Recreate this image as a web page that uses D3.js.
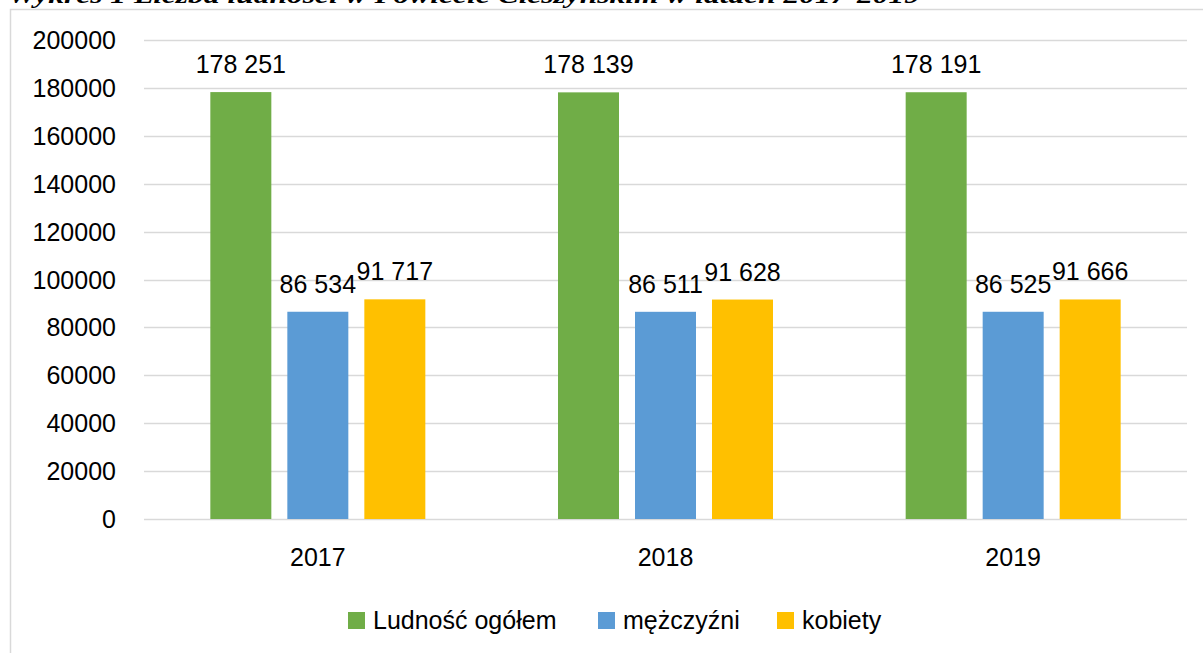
<!DOCTYPE html>
<html><head><meta charset="utf-8">
<script src="https://cdn.jsdelivr.net/npm/d3@7"></script>
<style>
html,body{margin:0;padding:0;background:#fff;overflow:hidden}
text{font-family:"Liberation Sans",Arial,sans-serif;fill:#000}
</style></head>
<body>
<svg id="c" width="1203" height="653"></svg>
<script>
const title = "Wykres 1 Liczba ludności w Powiecie Cieszyńskim w latach 2017-2019";
const categories = ["2017", "2018", "2019"];
const seriesNames = ["Ludność ogółem", "mężczyźni", "kobiety"];
const seriesColors = ["#70AD47", "#5B9BD5", "#FFC000"];
const ogolem = [178251, 178139, 178191];
const mezczyzni = [86534, 86511, 86525];
const kobiety = [91717, 91628, 91666];
const yTicks = [0, 20000, 40000, 60000, 80000, 100000, 120000, 140000, 160000, 180000, 200000];

const series = [ogolem, mezczyzni, kobiety];
const svg = d3.select("#c");

// chart border
svg.append("rect").attr("x", 10.5).attr("y", 9.5).attr("width", 1230).attr("height", 700)
  .attr("fill", "none").attr("stroke", "#D9D9D9").attr("stroke-width", 1.5);

// title (cut at top)
svg.append("text").attr("x", 8).attr("y", 3)
  .attr("textLength", 912).attr("lengthAdjust", "spacingAndGlyphs")
  .style("font-family", "'Liberation Serif','DejaVu Serif',serif")
  .style("font-weight", "bold").style("font-style", "italic").style("font-size", "24px")
  .text(title);

const x0 = d3.scaleBand().domain(categories).range([144, 1187]);
const y = d3.scaleLinear().domain([0, 200000]).range([519, 40]);
const x1 = d3.scaleBand().domain(d3.range(3)).range([0, 231]).paddingInner(0.208).paddingOuter(0);

// gridlines
svg.append("g").selectAll("line").data(yTicks).join("line")
  .attr("x1", 144).attr("x2", 1187)
  .attr("y1", d => Math.round(y(d)) + 0.5).attr("y2", d => Math.round(y(d)) + 0.5)
  .attr("stroke", "#D9D9D9").attr("stroke-width", 1.5);

// y axis labels
svg.append("g").selectAll("text").data(yTicks).join("text")
  .attr("x", 116).attr("y", d => y(d)).attr("dy", "0.36em")
  .attr("text-anchor", "end").style("font-size", "25px")
  .text(d => d3.format("d")(d));

// bars
const groupW = 3 * 61 + 2 * 16;
const g = svg.append("g");
categories.forEach((c, i) => {
  const cx = x0(c) + x0.bandwidth() / 2;
  const start = cx - groupW / 2;
  series.forEach((s, j) => {
    const bx = start + j * 77;
    g.append("rect").attr("x", bx).attr("width", 61)
      .attr("y", y(s[i])).attr("height", y(0) - y(s[i]))
      .attr("fill", seriesColors[j]);
    g.append("text").attr("x", bx + 30.5).attr("y", y(s[i]) - 19)
      .attr("text-anchor", "middle").style("font-size", "25px")
      .text(d3.format(",")(s[i]).replace(/,/g, " "));
  });
  svg.append("text").attr("x", cx).attr("y", 566)
    .attr("text-anchor", "middle").style("font-size", "25px").text(c);
});

// legend
const legendX = [348, 598, 777];
seriesNames.forEach((n, j) => {
  svg.append("rect").attr("x", legendX[j]).attr("y", 612).attr("width", 17).attr("height", 17)
    .attr("fill", seriesColors[j]);
  svg.append("text").attr("x", legendX[j] + 25).attr("y", 629)
    .style("font-size", "25px").text(n);
});
</script>
</body></html>
